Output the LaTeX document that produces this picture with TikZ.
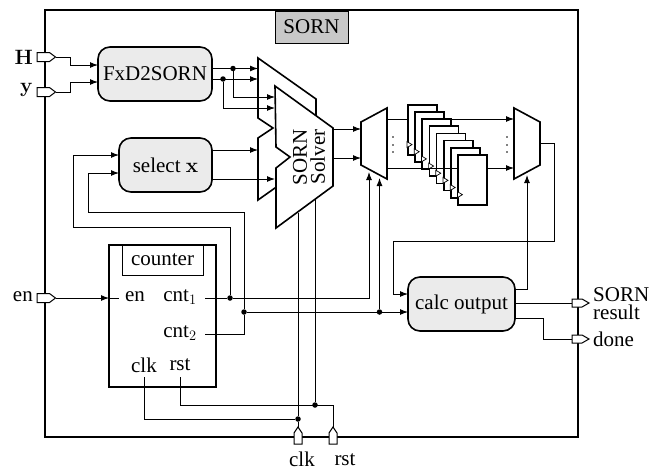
\documentclass[tikz,border=0pt]{standalone}
\usepackage[no-math]{fontspec}
\setmainfont{Liberation Serif}
\usetikzlibrary{arrows.meta}

\definecolor{blockgray}{HTML}{EBEBEB}
\definecolor{titlegray}{HTML}{C8C8C8}

\tikzset{
	wire/.style = {line width = 1},
	thickline/.style = {line width = 1.6, line join = miter},
	block/.style = {thickline, draw, fill = blockgray, rounded corners = 12, inner sep = 0},
	plainbox/.style = {thickline, draw, inner sep = 0},
	port/.style = {line width = 1, draw, fill = white},
	dot/.style = {circle, fill = black, inner sep = 0, minimum size = 5.5},
	label/.style = {inner sep = 0, font = \fontsize{21}{18}\selectfont}
}

\begin{document}
\begin{tikzpicture}[> = {Latex[length = 8, width = 6]}, x = 1pt, y = -1pt]

	\useasboundingbox (0, 0) rectangle (667, 471);

	% Definitions

	\def\RegW{29}		% Width of a register
	\def\RegH{50}		% Height of a register
	\def\RegDx{7.2}		% Shift between registers
	\def\RegDy{7.15}

	% Outer frame + title

	\draw [line width = 2.6] (45, 10) rectangle (578, 437);
	\node [plainbox, line width = 1, fill = titlegray, label, minimum width = 73, minimum height = 32] (title) at (311.5, 27) {SORN};

	% Points where wires start, bend or end

	\foreach \name/\px/\py in {
		portH/55.5/57, portY/55.5/92, portEn/55.5/298, portRes/589/303, portDone/589/339, portClk/298/427, portRst/333/427,
		bendH/70/65, bendY/70/82, fxdH/98/65, fxdY/98/82,
		fxdA/212/68.5, fxdB/212/79, backA/258/68.5, backB/258/79, backC/258/150,
		frontA/275/97, frontB/275/108, frontC/275/179,
		selA/212/150, selB/212/179, selIn1/119/155, selIn2/119/173,
		bendS1/73/227, bendS2/88/212, bendS3/230/227, bendS4/244/212,
		solA/333/129, solB/333/158, demuxA/361/129, demuxB/361/158,
		demuxC/387/119, demuxD/387/168, muxA/514/119, muxB/514/168,
		upA/369/172, upB/379.5/178, upC/527/175,
		cntEnEnd/119/298, cntEnTip/109/298, cntA/205/298, cntB/205/334, cntBend1/369/298,
		muxOut/540/143, bendF1/554/143, bendF2/554/241, bendF3/393/241, bendF4/393/294, calcA/408/294, calcB/408/312,
		calcOut1/515/289, bendO1/527/289, calcOut2/515/303, calcOut3/515/318, bendO2/543/318, bendO3/543/339,
		clkOut/144/377, rstOut/180/377, bendC/144/419, bendR1/180/405, bendR2/333/405, clkUp/298/213, rstUp/315/198
	}
		\coordinate (\name) at (\px, \py);

	% Multiplexers + solver

	\draw [thickline, fill = white] (258, 58) -- (316, 99) -- (316, 159) -- (258, 200) -- (258, 138) -- (273, 128) -- (258, 118) -- cycle;
	\draw [thickline, fill = white] (275, 86) -- (333, 128) -- (333, 186) -- (276, 228) -- (276, 168) -- (290, 157) -- (276, 147) -- cycle;
	\draw [thickline, fill = white] (361, 122) -- (387, 108) -- (387, 179) -- (361, 165) -- cycle;
	\draw [thickline, fill = white] (514, 108) -- (540, 122) -- (540, 165) -- (514, 179) -- cycle;
	\node [label, rotate = 90, align = center] (solver) at (309, 157) {SORN\\Solver};

	% Blocks

	\node [block, label, minimum width = 114, minimum height = 54] (fxd) at (155, 74) {FxD2SORN};
	\node [block, label, minimum width = 93, minimum height = 54] (select) at (165.5, 165) {select $\mathbf{x}$};
	\node [block, label, minimum width = 107, minimum height = 54] (calc) at (461.5, 304) {calc output};
	\node [plainbox, minimum width = 107, minimum height = 142] (counter) at (162.5, 316) {};
	\node [plainbox, line width = 1, label, minimum width = 81, minimum height = 30] (cnttitle) at (162.5, 260) {counter};

	% Labels of the counter

	\node [label] (lblEn) at (135, 297) {en};
	\node [label] (lblCnt1) at (180, 297) {cnt$_1$};
	\node [label] (lblCnt2) at (180, 333) {cnt$_2$};
	\node [label] (lblClk) at (144, 365) {clk};
	\node [label] (lblRst) at (180, 365) {rst};

	% Wires behind the registers

	\draw [wire, ->] (demuxC) -- (muxA);

	% Registers

	\foreach \i in {0, 1, ..., 7}
	{
		\node [plainbox, fill = white, minimum width = \RegW, minimum height = \RegH, anchor = north west] (reg\i) at (407 + \i * \RegDx, 104 + \i * \RegDy) {};
		\draw [line width = 0.7, fill = white] (reg\i.south west) ++(0, -14) -- ++(5, 3) -- ++(-5, 3) -- cycle;
		\ifnum\i=6
			\draw [wire, ->] (demuxD) -- (muxB);
		\fi
	}

	% Dots between the lanes

	\foreach \px in {393, 507}
		\foreach \py in {137, 145, 152}
			\fill (\px, \py) circle (0.9);

	% Junctions

	\node [dot] (jA) at (233, 68.5) {};
	\node [dot] (jB) at (223, 79) {};
	\node [dot] (jC) at (230, 298) {};
	\node [dot] (jD) at (244, 312) {};
	\node [dot] (jE) at (379.5, 312) {};
	\node [dot] (jF) at (298, 419) {};
	\node [dot] (jG) at (315, 405) {};

	% Inputs of the blocks

	\draw [wire, ->] (portH) -| (bendH) -- (fxdH);
	\draw [wire, ->] (portY) -| (bendY) -- (fxdY);
	\draw [wire, ->] (fxdA) -- (backA);
	\draw [wire, ->] (fxdB) -- (backB);
	\draw [wire, ->] (jA) |- (frontA);
	\draw [wire, ->] (jB) |- (frontB);
	\draw [wire, ->] (selA) -- (backC);
	\draw [wire, ->] (selB) -- (frontC);
	\draw [wire, ->] (jC) -- (bendS3) -- (bendS1) |- (selIn1);
	\draw [wire, ->] (jD) -- (bendS4) -- (bendS2) |- (selIn2);

	% Solver to output

	\draw [wire, ->] (solA) -- (demuxA);
	\draw [wire, ->] (solB) -- (demuxB);
	\draw [wire] (muxOut) -- (bendF1) -- (bendF2) -- (bendF3) -- (bendF4);
	\draw [wire, ->] (bendF4) -- (calcA);
	\draw [wire, ->] (calcOut1) -- (bendO1) -- (upC);

	% Counter outputs

	\draw [wire, ->] (portEn) -- (cntEnTip);
	\draw [wire] (cntEnTip) -- (cntEnEnd);
	\draw [wire] (cntA) -- (jC);
	\draw [wire, ->] (jC) -- (cntBend1) -- (upA);
	\draw [wire] (cntB) -| (jD);
	\draw [wire] (jD) -- (jE);
	\draw [wire, ->] (jE) -- (calcB);
	\draw [wire, ->] (jE) -- (upB);

	% Outputs

	\draw [wire] (calcOut2) -- (portRes);
	\draw [wire] (calcOut3) -- (bendO2) -- (bendO3) -- (portDone);

	% Clock, reset

	\draw [wire] (clkOut) -- (bendC) -- (jF);
	\draw [wire] (clkUp) -- (jF) -- (portClk);
	\draw [wire] (rstOut) -- (bendR1) -- (bendR2) -- (portRst);
	\draw [wire] (rstUp) -- (jG);

	% Ports

	\foreach \p in {portH, portY, portEn}
		\draw [port] (\p) -- ++(-6, -4.5) -- ++(-12.5, 0) -- ++(0, 9) -- ++(12.5, 0) -- cycle;
	\foreach \p in {portRes, portDone}
		\draw [port] (\p) -- ++(-7, -4) -- ++(-10, 0) -- ++(0, 8) -- ++(10, 0) -- cycle;
	\foreach \p in {portClk, portRst}
		\draw [port] (\p) -- ++(-4, 6) -- ++(0, 11) -- ++(8, 0) -- ++(0, -11) -- cycle;

	% Port labels

	\node [label, anchor = east] (lblH) at (33, 57) {$\mathbf{H}$};
	\node [label, anchor = east] (lblY) at (33, 90) {$\mathbf{y}$};
	\node [label, anchor = east] (lblEnIn) at (33, 297) {en};
	\node [label, anchor = west, align = left] (lblRes) at (593, 304) {SORN\\result};
	\node [label, anchor = west] (lblDone) at (593, 339) {done};
	\node [label] (lblClkIn) at (302, 459.5) {clk};
	\node [label] (lblRstIn) at (345, 459.5) {rst};

\end{tikzpicture}
\end{document}
